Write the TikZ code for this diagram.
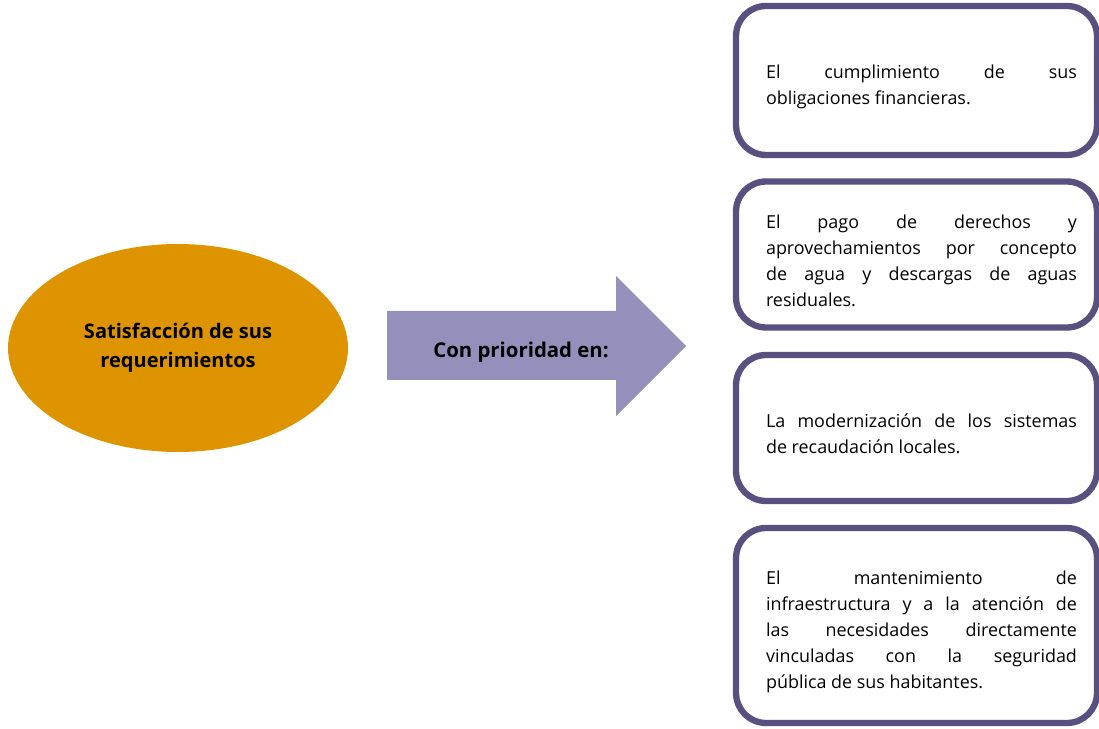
\documentclass[tikz,border=0pt]{standalone}
\usepackage{fontspec}
\setmainfont{Open Sans}
\usetikzlibrary{shapes.geometric}

\definecolor{ocre}{RGB}{221,148,0}
\definecolor{lila}{RGB}{149,143,188}
\definecolor{borde}{RGB}{89,80,127}

\begin{document}
\begin{tikzpicture}[
    x=0.02cm, y=-0.02cm,
    caja/.style={rectangle, draw=borde, line width=3.6pt, rounded corners=0.6cm,
      minimum width=7.22cm},
    texto/.style={text width=6.22cm, align=justify, inner sep=0pt,
      font=\fontsize{10.2}{14.8}\selectfont,
      execute at begin node={\hyphenpenalty=10000\relax}},
    ovalo/.style={ellipse, fill=ocre, minimum width=6.8cm, minimum height=4.16cm,
      align=center, font=\fontsize{11.4}{16.5}\selectfont\bfseries},
    flecha/.style={fill=lila}
  ]
  \useasboundingbox (0,0) rectangle (1099,729);

  % Elipse de la izquierda
  \node[ovalo] (sat) at (178,348) {Satisfacción de sus\\requerimientos};

  % Flecha central
  \fill[flecha] (387,311) -- (616,311) -- (616,276) -- (686,346)
    -- (616,416) -- (616,380) -- (387,380) -- cycle;
  \node[font=\fontsize{11.6}{14.8}\selectfont\bfseries] (prio) at (521,352) {Con prioridad en:};

  % Cajas de la derecha
  \node[caja, minimum height=2.98cm] (c1) at (916.5,80.5) {};
  \node[caja, minimum height=2.92cm] (c2) at (916.5,254.5) {};
  \node[caja, minimum height=2.92cm] (c3) at (916.5,428) {};
  \node[caja, minimum height=3.9cm] (c4) at (916.5,625.5) {};

  % Textos de las cajas
  \node[texto] (t1) at ([xshift=0.1cm, yshift=-0.12cm]c1.center)
    {El cumplimiento de sus \linebreak obligaciones financieras.};
  \node[texto] (t2) at ([xshift=0.1cm, yshift=-0.12cm]c2.center)
    {El pago de derechos y \linebreak aprovechamientos por concepto \linebreak de agua y descargas de aguas \linebreak residuales.};
  \node[texto] (t3) at ([xshift=0.1cm, yshift=-0.12cm]c3.center)
    {La modernización de los sistemas \linebreak de recaudación locales.};
  \node[texto] (t4) at ([xshift=0.1cm, yshift=-0.12cm]c4.center)
    {El mantenimiento de \linebreak infraestructura y a la atención de \linebreak las necesidades directamente \linebreak vinculadas con la seguridad \linebreak pública de sus habitantes.};

\end{tikzpicture}
\end{document}
